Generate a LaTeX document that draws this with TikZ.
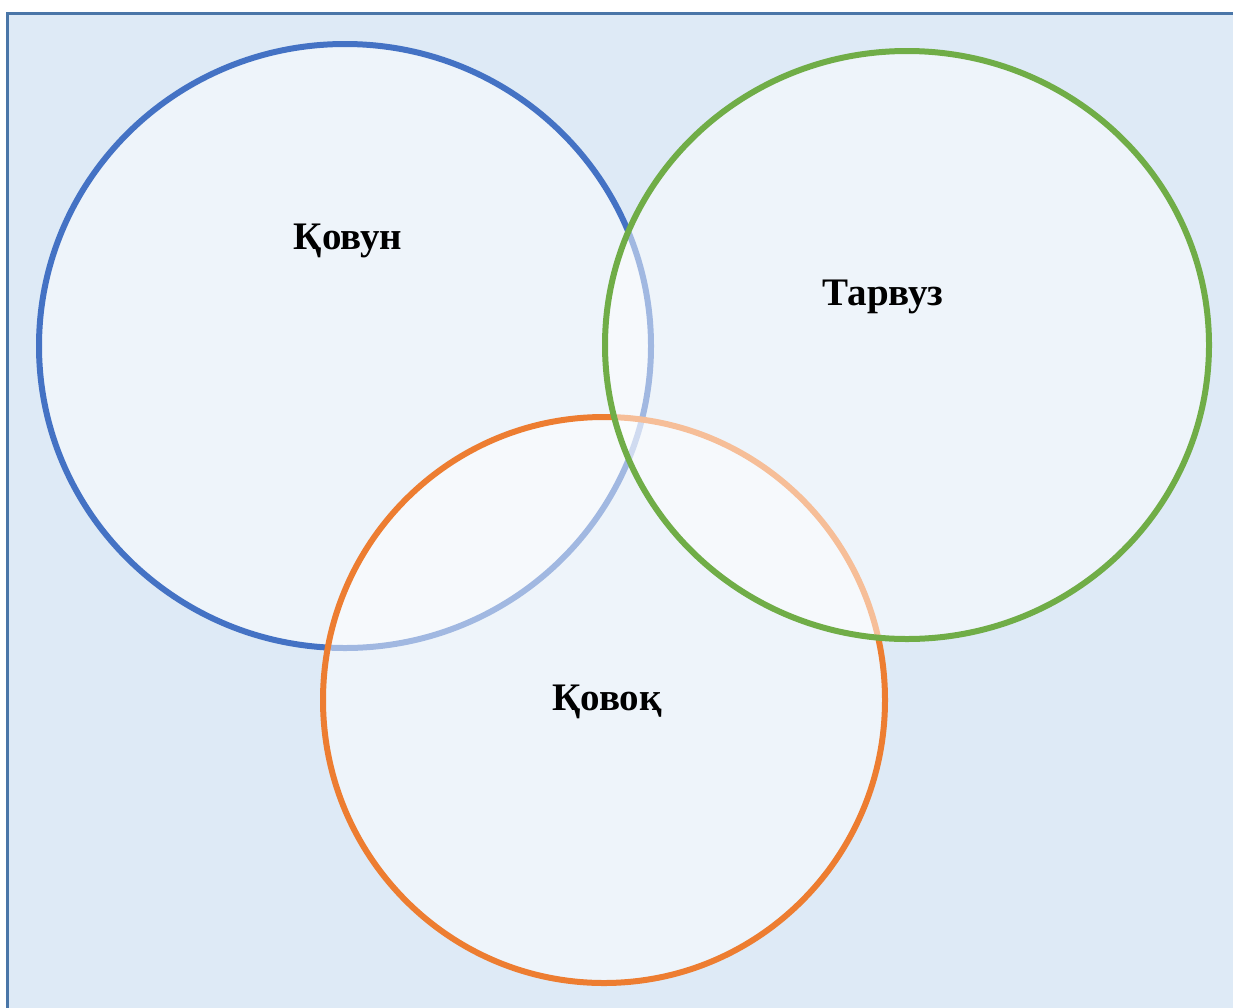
\documentclass[tikz,border=0pt]{standalone}
\usepackage{fontspec}
\setmainfont{Liberation Serif}
\definecolor{bgblue}{HTML}{DEEAF6}
\definecolor{frameblue}{HTML}{4A76A8}
\definecolor{vblue}{HTML}{4472C4}
\definecolor{vorange}{HTML}{ED7D31}
\definecolor{vgreen}{HTML}{70AD47}
\tikzset{
  venn/.style={line width=6pt, fill=white, fill opacity=0.5, draw opacity=1},
  lbl/.style={font=\fontsize{39}{42}\selectfont\bfseries, text=black, inner sep=0pt}
}
\begin{document}
\begin{tikzpicture}[x=1pt,y=-1pt]
\useasboundingbox (0,0) rectangle (1233,1007);
\clip (0,0) rectangle (1233,1007);
\fill[white] (0,0) rectangle (1233,1007);
\draw[frameblue, fill=bgblue, line width=3pt] (7,13) rectangle (1260,1030);
\draw[venn, draw=vblue] (345,346) ellipse [x radius=306, y radius=302];
\draw[venn, draw=vorange] (604,700) ellipse [x radius=281, y radius=283];
\draw[venn, draw=vgreen] (907,345) ellipse [x radius=302, y radius=294];
\node[lbl] (kovun) at (348,241) {Қовун};
\node[lbl] (tarvuz) at (883,297) {Тарвуз};
\node[lbl] (kovok) at (607,702) {Қовоқ};
\end{tikzpicture}
\end{document}
